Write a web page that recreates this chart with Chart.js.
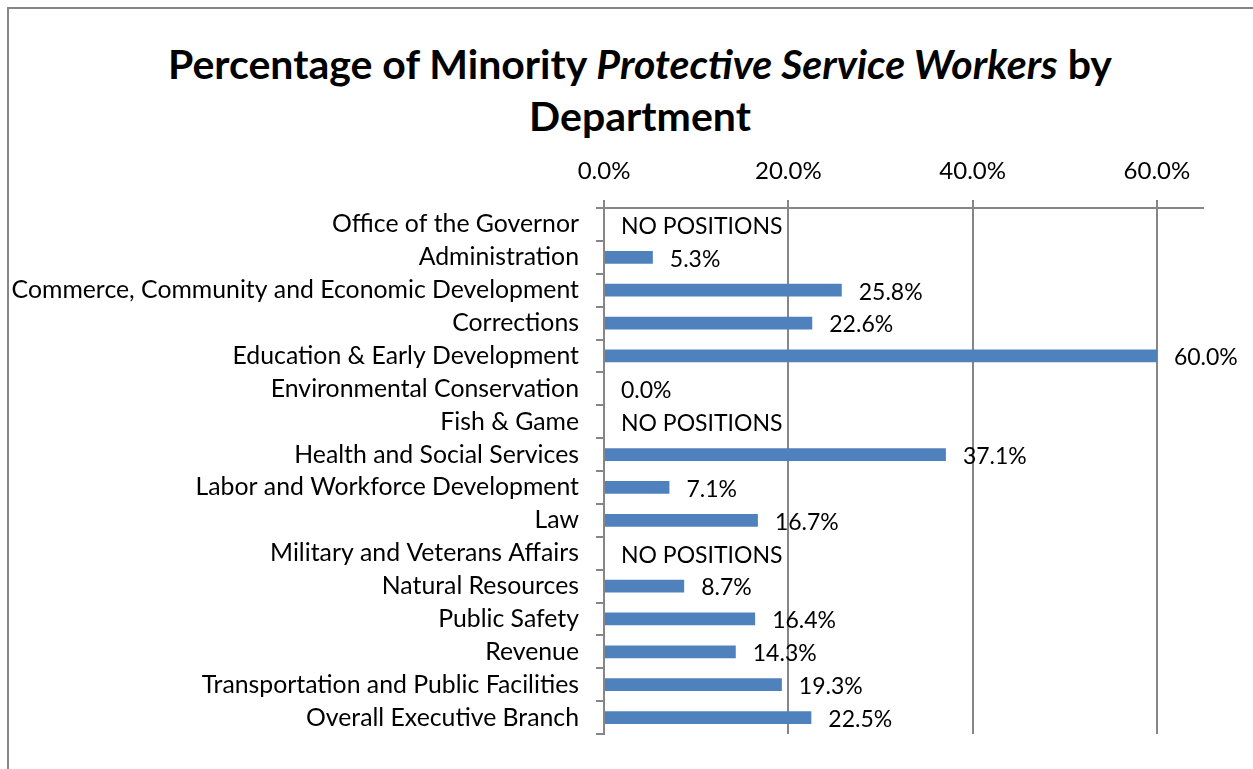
<!DOCTYPE html>
<html>
<head>
<meta charset="utf-8">
<script src="https://cdn.jsdelivr.net/npm/chart.js@4.4.0/dist/chart.umd.min.js"></script>
<style>
  html, body { margin: 0; padding: 0; background: #fff; overflow: hidden; }
  #wrap { position: relative; width: 1253px; height: 769px; }
  #frame { position: absolute; left: 7px; top: 7px; width: 1300px; height: 800px;
           border-left: 2px solid #868686; border-top: 2px solid #868686; }
  #title { position: absolute; left: 0; top: 38px; width: 1280px; text-align: center;
           font: bold 41px Lato, sans-serif; line-height: 52px; color: #000; }
  canvas { position: absolute; left: 0; top: 0; }
</style>
</head>
<body>
<div id="wrap">
  <div id="frame"></div>
  <div id="title">Percentage of Minority <i>Protective Service Workers</i> by<br>Department</div>
  <canvas id="chart" width="1253" height="769"></canvas>
</div>
<script>
const departments = [
  "Office of the Governor",
  "Administration",
  "Commerce, Community and Economic Development",
  "Corrections",
  "Education & Early Development",
  "Environmental Conservation",
  "Fish & Game",
  "Health and Social Services",
  "Labor and Workforce Development",
  "Law",
  "Military and Veterans Affairs",
  "Natural Resources",
  "Public Safety",
  "Revenue",
  "Transportation and Public Facilities",
  "Overall Executive Branch"
];

// percent of minority protective service workers, null = no positions
const minorityPct = [null, 5.3, 25.8, 22.6, 60.0, 0.0, null, 37.1, 7.1, 16.7, null, 8.7, 16.4, 14.3, 19.3, 22.5];

const axisTicks = [0, 20, 40, 60];
const noPositionsText = "NO POSITIONS";

const FONT = "Lato, sans-serif";
const AXIS_SIZE = 24;
const CAT_SIZE = 24.8;
const LABEL_SIZE = 23;
const GRID = "#868686";

// draws the value (or NO POSITIONS) just past the end of each bar
const valueLabels = {
  id: "valueLabels",
  afterDatasetsDraw(chart) {
    const ctx = chart.ctx;
    const xs = chart.scales.x;
    const ys = chart.scales.y;
    ctx.save();
    ctx.font = LABEL_SIZE + "px " + FONT;
    ctx.fillStyle = "#000";
    ctx.textBaseline = "middle";
    minorityPct.forEach((v, i) => {
      const y = ys.getPixelForValue(i) + 2;
      const text = v === null ? noPositionsText : v.toFixed(1) + "%";
      const x = xs.getPixelForValue(v === null ? 0 : v) + 17;
      ctx.fillText(text, x, y);
    });
    ctx.restore();
  }
};

new Chart(document.getElementById("chart"), {
  type: "bar",
  data: {
    labels: departments,
    datasets: [{
      data: minorityPct,
      backgroundColor: "#4F81BD",
      borderWidth: 0,
      categoryPercentage: 1,
      barPercentage: 0.385
    }]
  },
  options: {
    indexAxis: "y",
    responsive: false,
    animation: false,
    layout: { padding: { left: 0, top: 150, right: 50, bottom: 35 } },
    plugins: {
      legend: { display: false },
      tooltip: { enabled: false },
      title: { display: false }
    },
    scales: {
      x: {
        type: "linear",
        position: "top",
        min: 0,
        max: 65,
        afterBuildTicks: (s) => { s.ticks = axisTicks.map(v => ({ value: v })); },
        afterFit: (s) => { s.height = 58; },
        ticks: {
          callback: (v) => v.toFixed(1) + "%",
          font: { family: FONT, size: AXIS_SIZE },
          color: "#000",
          padding: 14,
          maxRotation: 0
        },
        grid: { color: GRID, lineWidth: 2, tickLength: 8 },
        border: { display: true, color: GRID, width: 2 }
      },
      y: {
        type: "category",
        afterFit: (s) => { s.width = 604; },
        ticks: {
          font: { family: FONT, size: CAT_SIZE },
          color: "#000",
          padding: 17,
          autoSkip: false
        },
        grid: { offset: true, drawOnChartArea: false, color: GRID, lineWidth: 2, tickLength: 8 },
        border: { display: true, color: GRID, width: 2 }
      }
    }
  },
  plugins: [valueLabels]
});
</script>
</body>
</html>
